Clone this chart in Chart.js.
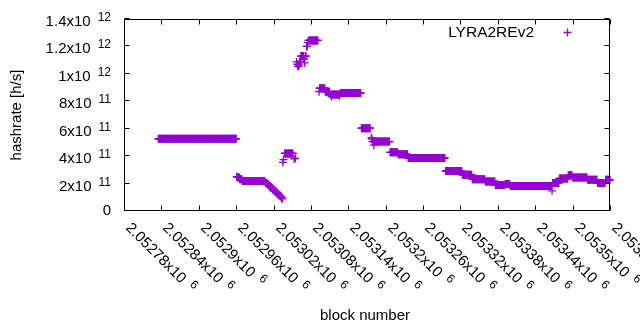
<!DOCTYPE html>
<html>
<head>
<meta charset="utf-8">
<script src="https://cdn.jsdelivr.net/npm/chart.js@4.4.1/dist/chart.umd.min.js"></script>
<style>
  html, body { margin: 0; padding: 0; background: #fff; }
  #wrap { width: 640px; height: 330px; }
</style>
</head>
<body>
<div id="wrap"><canvas id="c" width="640" height="330"></canvas></div>
<script>
///////////////////////////////////////////////////////////////
// data (runs of blocks, hashrate in 1e11 h/s)
///////////////////////////////////////////////////////////////

const runFirstBlock = [
  2052835, 2052961, 2052962, 2052966, 2052970, 2053007, 2053010, 2053013, 2053016, 2053019,
  2053022, 2053025, 2053028, 2053031, 2053033, 2053034, 2053035, 2053036, 2053038, 2053053,
  2053055, 2053057, 2053058, 2053059, 2053061, 2053062, 2053064, 2053069, 2053070, 2053071,
  2053073, 2053075, 2053076, 2053093, 2053094, 2053103, 2053111, 2053113, 2053114, 2053126,
  2053127, 2053161, 2053177, 2053178, 2053179, 2053181, 2053182, 2053207, 2053220, 2053236,
  2053296, 2053323, 2053339, 2053360, 2053376, 2053392, 2053400, 2053467, 2053468, 2053479,
  2053493, 2053500, 2053524, 2053540, 2053553
];
const runCount = [
  126, 1, 4, 4, 37, 3, 3, 3, 3, 3,
  3, 3, 3, 2, 1, 1, 1, 1, 14, 1,
  1, 1, 1, 2, 1, 2, 5, 1, 1, 2,
  2, 1, 16, 1, 9, 8, 2, 1, 12, 1,
  34, 15, 1, 1, 2, 1, 25, 13, 16, 60,
  27, 16, 21, 16, 16, 8, 67, 1, 11, 14,
  7, 24, 16, 13, 8
];
const runHashrate = [
  5.26, 2.5, 2.45, 2.32, 2.18, 2.05, 1.95, 1.8, 1.68, 1.55,
  1.42, 1.3, 1.17, 1.05, 0.95, 0.88, 3.55, 3.75, 4.2, 3.8,
  3.85, 10.87, 10.7, 10.55, 10.65, 10.9, 11.3, 11.1, 10.8, 11.3,
  12.0, 12.3, 12.44, 8.7, 8.95, 8.7, 8.5, 8.35, 8.5, 8.4,
  8.6, 6.04, 5.35, 5.25, 5.06, 4.8, 5.06, 4.28, 4.13, 3.86,
  2.91, 2.64, 2.32, 2.15, 1.9, 1.97, 1.83, 1.47, 2.05, 2.37,
  2.6, 2.44, 2.27, 2.05, 2.27
];

const yTickVals = [0, 2e11, 4e11, 6e11, 8e11, 1e12, 1.2e12, 1.4e12];
const yTickMant = ['0', '2', '4', '6', '8', '1', '1.2', '1.4'];
const yTickExp  = ['', '11', '11', '11', '11', '12', '12', '12'];

const xTickVals = [
  2052780, 2052840, 2052900, 2052960, 2053020, 2053080, 2053140,
  2053200, 2053260, 2053320, 2053380, 2053440, 2053500, 2053560
];
const xTickMant = [
  '2.05278', '2.05284', '2.0529', '2.05296', '2.05302', '2.05308', '2.05314',
  '2.0532', '2.05326', '2.05332', '2.05338', '2.05344', '2.0535', '2.05356'
];
const xTickExp = '6';

const SERIES_NAME = 'LYRA2REv2';
const COLOR = '#9400d3';
const FONT = '"Liberation Sans", Arial, sans-serif';

///////////////////////////////////////////////////////////////
// helpers
///////////////////////////////////////////////////////////////

function expandRuns() {
  const pts = [];
  runFirstBlock.forEach((b0, i) => {
    for (let k = 0; k < runCount[i]; k++) {
      pts.push({ x: b0 + k, y: runHashrate[i] * 1e11 });
    }
  });
  return pts;
}

// mantissa "x10" + raised exponent, drawn from a local origin (left, baseline)
function sciWidth(ctx, mant, exp) {
  ctx.font = '15px ' + FONT;
  let w = ctx.measureText(exp ? mant + 'x10' : mant).width;
  if (exp) {
    ctx.font = '12px ' + FONT;
    w += 7 + ctx.measureText(exp).width;
  }
  return w;
}

function drawSci(ctx, mant, exp, x, y) {
  ctx.textAlign = 'left';
  ctx.textBaseline = 'alphabetic';
  ctx.font = '15px ' + FONT;
  const main = exp ? mant + 'x10' : mant;
  ctx.fillText(main, x, y);
  if (exp) {
    const mw = ctx.measureText(main).width;
    ctx.font = '12px ' + FONT;
    ctx.fillText(exp, x + mw + 7, y - 5.5);
  }
}

///////////////////////////////////////////////////////////////
// gnuplot-like frame, ticks, labels, key
///////////////////////////////////////////////////////////////

const framePlugin = {
  id: 'framePlugin',
  afterDatasetsDraw(chart) {
    const { ctx, chartArea: a, scales: { x, y } } = chart;
    const L = a.left + 0.5, R = a.right - 0.5, T = a.top + 0.5, B = a.bottom - 0.5;
    const tl = 5;

    ctx.save();
    ctx.strokeStyle = '#000';
    ctx.lineWidth = 1;
    ctx.fillStyle = '#000';

    // border
    ctx.strokeRect(L, T, R - L, B - T);

    // y ticks (left + mirror right)
    yTickVals.forEach((v, i) => {
      const py = Math.round(y.getPixelForValue(v)) - 0.5;
      ctx.beginPath();
      ctx.moveTo(L, py); ctx.lineTo(L + tl, py);
      ctx.moveTo(R, py); ctx.lineTo(R - tl, py);
      ctx.stroke();

      const w = sciWidth(ctx, yTickMant[i], yTickExp[i]);
      const base = yTickExp[i] ? py + 7.5 : py + 4.5;
      drawSci(ctx, yTickMant[i], yTickExp[i], 111 - w, base);
    });

    // x ticks (bottom + mirror top), labels rotated by -45 (gnuplot sense)
    xTickVals.forEach((v, i) => {
      const px = Math.round(x.getPixelForValue(v)) + 0.5;
      ctx.beginPath();
      ctx.moveTo(px, B); ctx.lineTo(px, B - tl);
      ctx.moveTo(px, T); ctx.lineTo(px, T + tl);
      ctx.stroke();

      ctx.save();
      ctx.translate(px + 0.5, a.bottom + 17.5);
      ctx.rotate(Math.PI / 4);
      drawSci(ctx, xTickMant[i], xTickExp, 0, 0);
      ctx.restore();
    });

    // axis titles
    ctx.font = '15px ' + FONT;
    ctx.textAlign = 'center';
    ctx.textBaseline = 'middle';
    ctx.fillText('block number', 365, 316);

    ctx.save();
    ctx.translate(17, 115);
    ctx.rotate(-Math.PI / 2);
    ctx.fillText('hashrate [h/s]', 0, 0);
    ctx.restore();

    // key
    ctx.font = '15.5px ' + FONT;
    ctx.textAlign = 'right';
    ctx.fillText(SERIES_NAME, 534, 33);
    ctx.strokeStyle = COLOR;
    ctx.lineWidth = 1.3;
    Chart.helpers.drawPoint(ctx, { pointStyle: 'cross', radius: 4, borderWidth: 1.3 }, 567.5, 32.5);
    ctx.restore();
  }
};

///////////////////////////////////////////////////////////////
// chart
///////////////////////////////////////////////////////////////

new Chart(document.getElementById('c').getContext('2d'), {
  type: 'scatter',
  data: {
    datasets: [{
      label: SERIES_NAME,
      data: expandRuns(),
      pointStyle: 'cross',
      pointRadius: 4,
      pointHoverRadius: 4,
      borderWidth: 1.3,
      borderColor: COLOR,
      backgroundColor: COLOR,
      clip: false
    }]
  },
  options: {
    responsive: false,
    animation: false,
    devicePixelRatio: 1,
    layout: { padding: { left: 124, right: 30, top: 19, bottom: 119 } },
    plugins: {
      legend: { display: false },
      tooltip: { enabled: false }
    },
    scales: {
      x: { type: 'linear', min: 2052780, max: 2053560, display: false },
      y: { type: 'linear', min: 0, max: 1.4e12, display: false }
    }
  },
  plugins: [framePlugin]
});
</script>
</body>
</html>
